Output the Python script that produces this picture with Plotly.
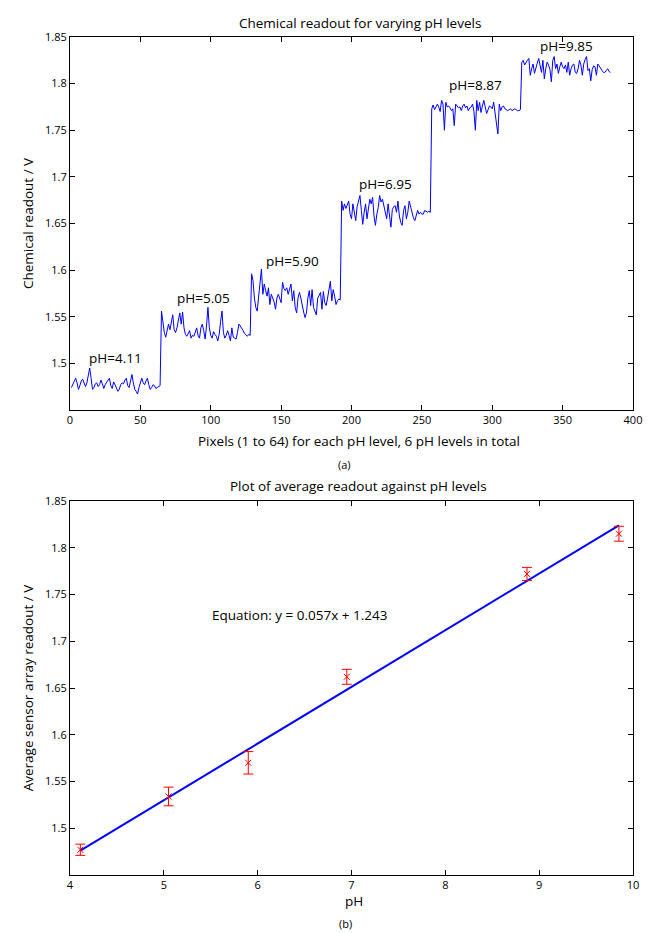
import plotly.graph_objects as go
from plotly.subplots import make_subplots

# ---- Data ----
ph_levels = [4.11, 5.05, 5.90, 6.95, 8.87, 9.85]
ph_labels = ["pH=4.11", "pH=5.05", "pH=5.90", "pH=6.95", "pH=8.87", "pH=9.85"]
label_x = [32, 95, 158, 224, 288, 353]
label_y = [1.506, 1.570, 1.610, 1.692, 1.798, 1.840]

seg_ph411 = [1.474, 1.478, 1.481, 1.484, 1.479, 1.472, 1.476, 1.481, 1.483, 1.478, 1.475, 1.479, 1.486, 1.495, 1.484, 1.472,
             1.474, 1.478, 1.479, 1.475, 1.477, 1.482, 1.478, 1.473, 1.477, 1.480, 1.482, 1.484, 1.476, 1.473, 1.480, 1.477,
             1.474, 1.470, 1.472, 1.477, 1.479, 1.478, 1.482, 1.484, 1.476, 1.474, 1.481, 1.488, 1.479, 1.472, 1.470, 1.467,
             1.474, 1.480, 1.484, 1.479, 1.477, 1.481, 1.484, 1.477, 1.472, 1.474, 1.477, 1.476, 1.473, 1.474, 1.475, 1.476]
seg_ph505 = [1.556, 1.545, 1.533, 1.528, 1.535, 1.542, 1.536, 1.545, 1.552, 1.536, 1.533, 1.538, 1.548, 1.554, 1.542, 1.555,
             1.538, 1.531, 1.529, 1.532, 1.535, 1.527, 1.530, 1.529, 1.533, 1.538, 1.530, 1.527, 1.538, 1.542, 1.535, 1.526,
             1.540, 1.560, 1.538, 1.530, 1.527, 1.534, 1.531, 1.529, 1.524, 1.531, 1.545, 1.556, 1.533, 1.527, 1.530, 1.535,
             1.530, 1.524, 1.538, 1.528, 1.527, 1.526, 1.533, 1.542, 1.540, 1.538, 1.535, 1.532, 1.530, 1.529, 1.531, 1.530]
seg_ph590 = [1.596, 1.589, 1.570, 1.560, 1.556, 1.570, 1.588, 1.601, 1.574, 1.585, 1.578, 1.572, 1.581, 1.563, 1.574, 1.569,
             1.566, 1.558, 1.570, 1.574, 1.569, 1.565, 1.587, 1.580, 1.578, 1.581, 1.574, 1.579, 1.585, 1.567, 1.578, 1.560,
             1.554, 1.570, 1.576, 1.570, 1.560, 1.555, 1.549, 1.554, 1.570, 1.578, 1.562, 1.579, 1.560, 1.556, 1.552, 1.570,
             1.573, 1.576, 1.558, 1.577, 1.565, 1.562, 1.570, 1.578, 1.588, 1.567, 1.579, 1.572, 1.563, 1.567, 1.569, 1.568]
seg_ph695 = [1.674, 1.664, 1.671, 1.666, 1.670, 1.674, 1.660, 1.655, 1.671, 1.662, 1.653, 1.668, 1.674, 1.680, 1.664, 1.649,
             1.662, 1.671, 1.655, 1.665, 1.676, 1.671, 1.678, 1.658, 1.648, 1.660, 1.667, 1.680, 1.673, 1.676, 1.670, 1.664,
             1.655, 1.671, 1.658, 1.646, 1.665, 1.668, 1.669, 1.662, 1.674, 1.658, 1.651, 1.648, 1.664, 1.669, 1.655, 1.662,
             1.674, 1.667, 1.660, 1.656, 1.653, 1.660, 1.664, 1.660, 1.662, 1.660, 1.660, 1.664, 1.663, 1.662, 1.663, 1.662]
seg_ph887 = [1.773, 1.777, 1.772, 1.776, 1.778, 1.775, 1.770, 1.782, 1.778, 1.750, 1.780, 1.775, 1.776, 1.774, 1.771, 1.773,
             1.755, 1.778, 1.776, 1.774, 1.775, 1.771, 1.776, 1.778, 1.774, 1.776, 1.771, 1.774, 1.775, 1.778, 1.770, 1.750,
             1.782, 1.771, 1.780, 1.769, 1.776, 1.782, 1.775, 1.768, 1.772, 1.776, 1.775, 1.773, 1.780, 1.768, 1.756, 1.746,
             1.778, 1.771, 1.775, 1.776, 1.773, 1.772, 1.771, 1.772, 1.773, 1.771, 1.772, 1.773, 1.772, 1.771, 1.771, 1.772]
seg_ph985 = [1.823, 1.825, 1.820, 1.823, 1.825, 1.827, 1.809, 1.816, 1.821, 1.811, 1.818, 1.822, 1.827, 1.818, 1.812, 1.825,
             1.805, 1.816, 1.823, 1.820, 1.815, 1.802, 1.825, 1.829, 1.816, 1.821, 1.811, 1.818, 1.823, 1.818, 1.816, 1.820,
             1.812, 1.823, 1.809, 1.816, 1.820, 1.821, 1.812, 1.811, 1.816, 1.825, 1.820, 1.809, 1.821, 1.826, 1.829, 1.814,
             1.816, 1.803, 1.815, 1.819, 1.818, 1.809, 1.821, 1.819, 1.816, 1.814, 1.812, 1.812, 1.814, 1.816, 1.813, 1.812]

readout = seg_ph411 + seg_ph505 + seg_ph590 + seg_ph695 + seg_ph887 + seg_ph985
pixel_index = list(range(1, len(readout) + 1))

avg_readout = [1.477, 1.534, 1.570, 1.662, 1.772, 1.815]
readout_err = [0.006, 0.010, 0.012, 0.008, 0.007, 0.008]
fit_x = [4.11, 9.85]
fit_y = [1.476, 1.824]
equation_text = "Equation: y = 0.057x + 1.243"

x_ticks_top = [0, 50, 100, 150, 200, 250, 300, 350, 400]
y_ticks = [1.5, 1.55, 1.6, 1.65, 1.7, 1.75, 1.8, 1.85]
y_tick_text = ["1.5", "1.55", "1.6", "1.65", "1.7", "1.75", "1.8", "1.85"]
x_ticks_bottom = [4, 5, 6, 7, 8, 9, 10]

FONT = "Open Sans"
TXT = dict(family=FONT, size=13.5, color="#000000")

L, R, T, B, W, H = 62, 29, 29, 66, 654, 933
PW = W - L - R


def px_to_paper_x(px):
    return (px - L) / PW


fig = make_subplots(rows=2, cols=1, vertical_spacing=0.1088)

fig.add_trace(go.Scatter(x=pixel_index, y=readout, mode="lines",
                         line=dict(color="#0000ff", width=1), showlegend=False), row=1, col=1)

fig.add_trace(go.Scatter(x=fit_x, y=fit_y, mode="lines",
                         line=dict(color="#0000ff", width=2), showlegend=False), row=2, col=1)
fig.add_trace(go.Scatter(x=ph_levels, y=avg_readout, mode="markers",
                         marker=dict(symbol="x-thin", size=6, color="#ff0000",
                                     line=dict(color="#ff0000", width=1)),
                         error_y=dict(type="data", array=readout_err, color="#ff0000",
                                      thickness=1, width=5),
                         showlegend=False), row=2, col=1)

for t, xx, yy in zip(ph_labels, label_x, label_y):
    fig.add_annotation(x=xx, y=yy, text=t, showarrow=False, xref="x", yref="y",
                       xanchor="center", yanchor="middle", font=TXT)

fig.add_annotation(x=6.45, y=1.728, text=equation_text, showarrow=False, xref="x2", yref="y2",
                   xanchor="center", yanchor="middle", font=TXT)

axis_common = dict(showline=True, linecolor="#000000", linewidth=1, mirror="ticks",
                   ticks="inside", ticklen=5, tickcolor="#000000", showgrid=False,
                   zeroline=False, automargin=False,
                   tickfont=dict(family=FONT, size=11, color="#000000"))

fig.update_xaxes(range=[0, 400], tickvals=x_ticks_top, row=1, col=1, **axis_common)
fig.update_yaxes(range=[1.45, 1.85], tickvals=y_ticks, ticktext=y_tick_text, row=1, col=1,
                 title=dict(text="Chemical readout / V", font=TXT, standoff=8),
                 **axis_common)
fig.update_xaxes(range=[4, 10], tickvals=x_ticks_bottom, row=2, col=1, **axis_common)
fig.update_yaxes(range=[1.45, 1.85], tickvals=y_ticks, ticktext=y_tick_text, row=2, col=1,
                 title=dict(text="Average sensor array readout / V", font=TXT, standoff=8),
                 **axis_common)

fig.update_layout(
    width=W, height=H,
    margin=dict(l=L, r=R, t=T, b=B),
    paper_bgcolor="#ffffff", plot_bgcolor="#ffffff",
    font=dict(family=FONT, size=12, color="#000000"),
)
fig.update_xaxes(domain=[0, 1])
top_lo, bot_hi = 0.555, 0.4463
fig.update_yaxes(domain=[top_lo, 1.0], row=1, col=1)
fig.update_yaxes(domain=[0.0, bot_hi], row=2, col=1)

texts = [
    ("Chemical readout for varying pH levels", 352, 1.0, 14, 13.5),
    ("Pixels (1 to 64) for each pH level, 6 pH levels in total", 351, top_lo, -31, 13.5),
    ("(a)", 336, top_lo, -55, 11),
    ("Plot of average readout against pH levels", 350, bot_hi, 15, 13.5),
    ("pH", 346, 0.0, -26, 13.5),
    ("(b)", 337, 0.0, -48, 11),
]
for txt, cx, yp, ys, fs in texts:
    fig.add_annotation(x=px_to_paper_x(cx), y=yp, yshift=ys, xref="paper", yref="paper",
                       showarrow=False, xanchor="center", yanchor="middle", text=txt,
                       font=dict(family=FONT, size=fs, color="#000000"))

fig.write_html("out.html")
